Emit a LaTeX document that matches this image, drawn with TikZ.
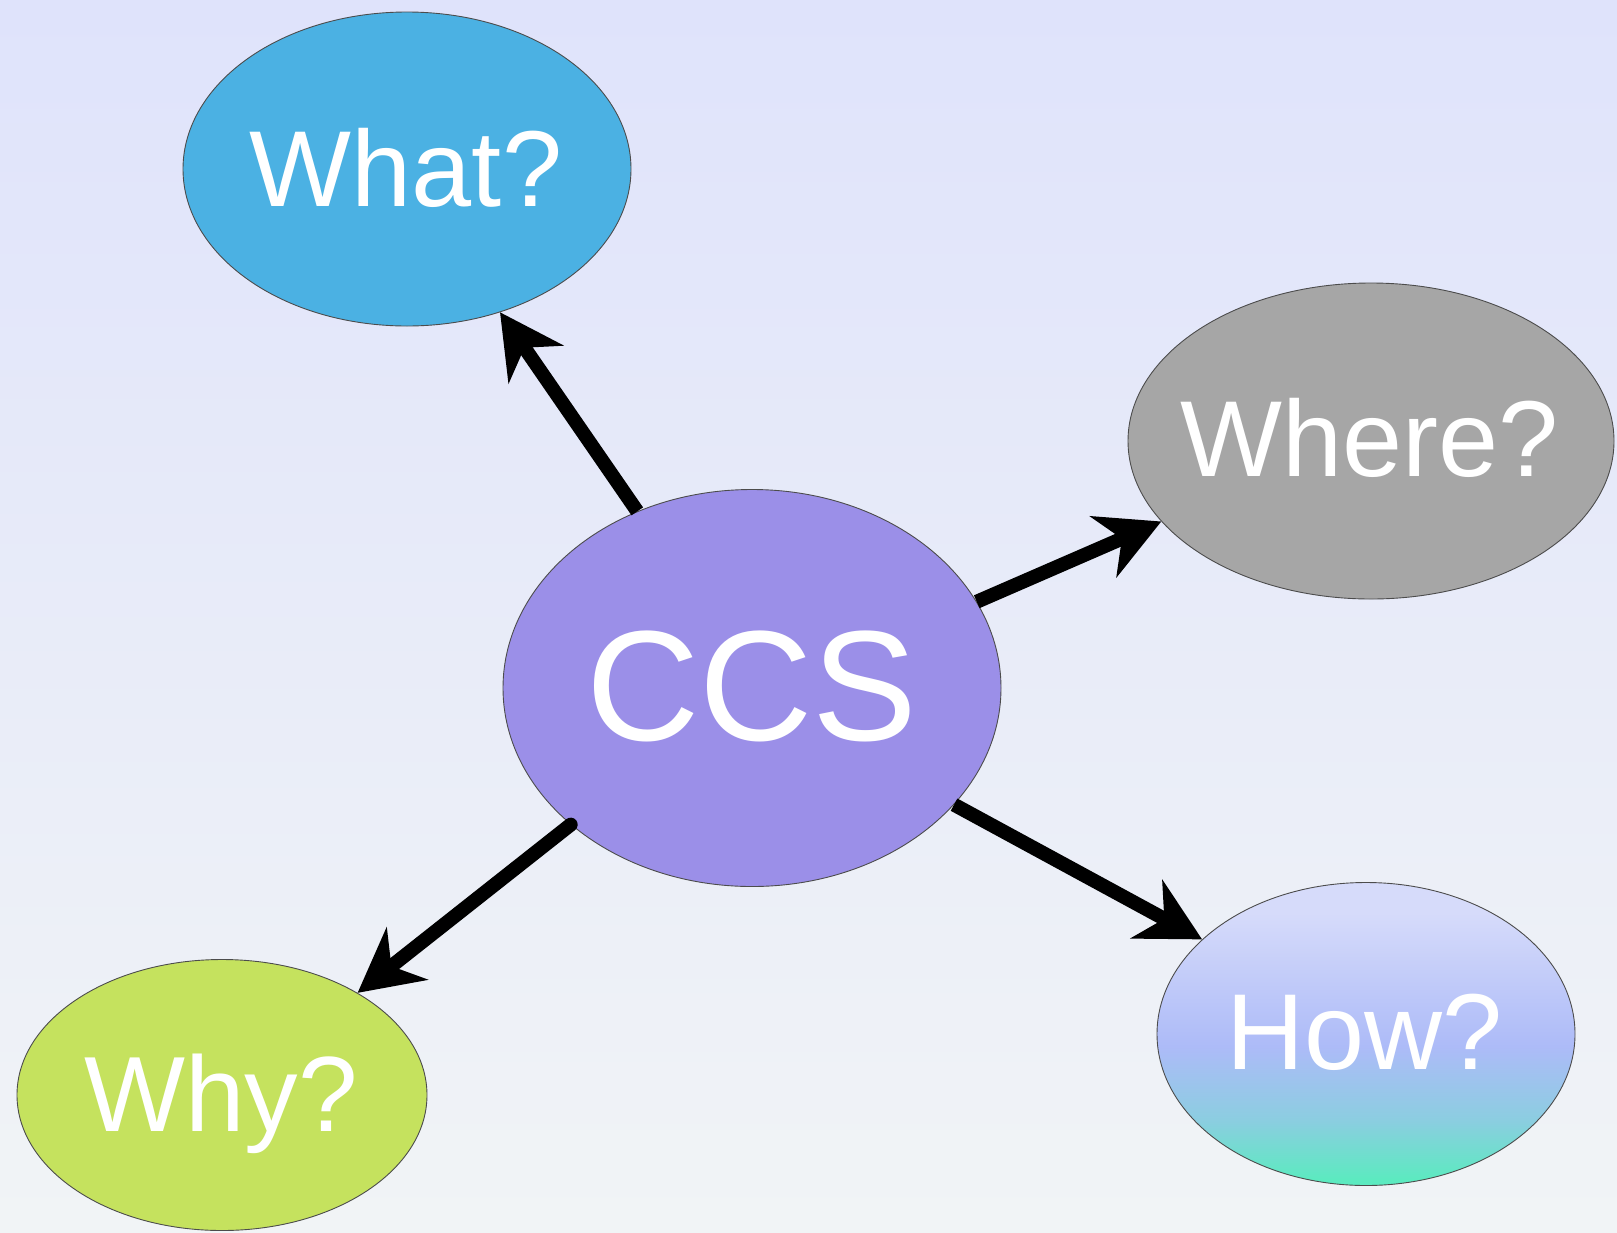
\documentclass[tikz,border=0pt]{standalone}
\usepackage{fontspec}
\setmainfont{Liberation Sans}
\usetikzlibrary{shapes.geometric,arrows.meta}
\definecolor{bgtop}{RGB}{223,227,251}
\definecolor{bgbot}{RGB}{241,244,246}
\definecolor{whatc}{RGB}{75,177,227}
\definecolor{wherec}{RGB}{166,166,166}
\definecolor{ccsc}{RGB}{155,143,232}
\definecolor{whyc}{RGB}{197,226,94}
\definecolor{howtop}{RGB}{214,219,250}
\definecolor{howmid}{RGB}{173,187,248}
\definecolor{howlow}{RGB}{140,205,225}
\definecolor{howbot}{RGB}{92,234,192}
\pgfdeclareverticalshading{howshade}{100bp}{color(0bp)=(howbot); color(26bp)=(howbot); color(36bp)=(howlow); color(48bp)=(howmid); color(70bp)=(howtop); color(100bp)=(howtop)}
\begin{document}
\begin{tikzpicture}[x=1pt,y=-1pt,
  bubble/.style={ellipse, draw=black!70, line width=0.9pt, inner sep=0pt},
  lbl/.style={text=white, inner sep=0pt, anchor=base},
  conn/.style={line width=14pt, -{Stealth[length=63pt,width=66pt,inset=20pt]}}]
\shade[top color=bgtop, bottom color=bgbot] (0,0) rectangle (1617,1232);
\useasboundingbox (0,0) rectangle (1617,1232);
\node[bubble, fill=whatc, minimum width=448pt, minimum height=314pt] (what) at (407,169) {};
\node[bubble, fill=wherec, minimum width=486pt, minimum height=316pt] (where) at (1371,441) {};
\node[bubble, fill=ccsc, minimum width=498pt, minimum height=397pt] (ccs) at (752,688) {};
\node[bubble, fill=whyc, minimum width=410pt, minimum height=271pt] (why) at (222,1095) {};
\node[bubble, shading=howshade, minimum width=418pt, minimum height=303pt] (how) at (1366,1034) {};
\node[lbl, font=\fontsize{108}{112}\selectfont] (whatt) at (406,206) {What?};
\node[lbl, font=\fontsize{108}{112}\selectfont] (wheret) at (1370,476) {Where?};
\node[lbl, font=\fontsize{157}{162}\selectfont] (ccst) at (752,740) {CCS};
\node[lbl, font=\fontsize{107}{112}\selectfont] (whyt) at (221,1131) {Why?};
\node[lbl, font=\fontsize{108}{112}\selectfont] (howt) at (1365,1069) {How?};
\draw[conn] (ccs.123.5) -- (what.303);
\draw[conn] (ccs.21.5) -- (where.201.7);
\draw[conn] (ccs.330.3) -- (how.150.4);
\draw[conn, line cap=round] (ccs.217.7) -- (why.37.5);
\end{tikzpicture}
\end{document}
